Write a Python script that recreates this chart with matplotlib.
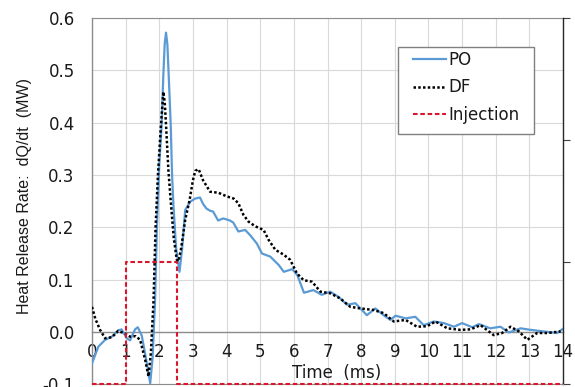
import matplotlib
matplotlib.use("Agg")
import matplotlib.pyplot as plt
from matplotlib.lines import Line2D
from matplotlib.patches import Rectangle

plt.rcParams['font.family'] = ['DejaVu Sans']

# ---- data ----
po_t = [0, 0.19, 0.39, 0.59, 0.78, 0.88, 1.03, 1.13, 1.28, 1.36, 1.48, 1.63, 1.73, 1.80,
        1.875, 1.93, 2.0, 2.07, 2.12, 2.16, 2.20, 2.24, 2.28, 2.34, 2.38, 2.42, 2.50, 2.60,
        2.68, 2.77, 2.92, 3.07, 3.21, 3.3, 3.4, 3.5, 3.6, 3.75, 3.9, 4.1, 4.2, 4.35, 4.55,
        4.7, 4.9, 5.05, 5.3, 5.55, 5.7, 5.95, 6.1, 6.3, 6.58, 6.83, 7.08, 7.33, 7.58, 7.83,
        8.17, 8.42, 8.67, 8.87, 9.02, 9.32, 9.61, 9.86, 10.16, 10.46, 10.76, 11.0, 11.3,
        11.5, 11.84, 12.14, 12.39, 12.74, 13.04, 13.43, 13.82, 14.0]
po_v = [-0.06, -0.028, -0.015, -0.009, 0.003, 0.005, -0.012, -0.016, 0.005, 0.009, -0.007,
        -0.06, -0.098, -0.05, 0.06, 0.2, 0.32, 0.396, 0.49, 0.55, 0.572, 0.55, 0.49, 0.396,
        0.30, 0.243, 0.16, 0.115, 0.16, 0.233, 0.249, 0.255, 0.257, 0.245, 0.236, 0.232,
        0.23, 0.213, 0.217, 0.213, 0.209, 0.192, 0.195, 0.185, 0.169, 0.15, 0.144, 0.128,
        0.115, 0.12, 0.109, 0.075, 0.080, 0.071, 0.077, 0.067, 0.052, 0.055, 0.032, 0.045,
        0.032, 0.023, 0.031, 0.026, 0.029, 0.013, 0.02, 0.017, 0.01, 0.017, 0.009, 0.015,
        0.007, 0.01, -0.001, 0.007, 0.004, 0.001, -0.002, 0.006]

df_t = [0, 0.1, 0.24, 0.39, 0.59, 0.78, 0.98, 1.13, 1.3, 1.43, 1.58, 1.68, 1.75, 1.83, 1.89,
        1.96, 2.05, 2.12, 2.16, 2.20, 2.27, 2.34, 2.43, 2.52, 2.57, 2.65, 2.77, 2.9, 3.0,
        3.07, 3.17, 3.3, 3.51, 3.76, 4.01, 4.21, 4.35, 4.50, 4.65, 4.85, 5.10, 5.25, 5.45,
        5.69, 5.89, 6.09, 6.29, 6.54, 6.79, 7.08, 7.38, 7.68, 7.98, 8.37, 8.67, 8.97, 9.32,
        9.66, 9.96, 10.21, 10.56, 10.95, 11.25, 11.55, 11.94, 12.19, 12.44, 12.69, 12.94,
        13.23, 13.53, 13.93]
df_v = [0.048, 0.025, 0.004, -0.012, -0.01, 0.002, -0.003, -0.009, -0.008, -0.015, -0.053,
        -0.085, -0.04, 0.061, 0.2, 0.3, 0.396, 0.459, 0.44, 0.396, 0.31, 0.25, 0.18, 0.138,
        0.135, 0.16, 0.214, 0.252, 0.29, 0.308, 0.311, 0.29, 0.268, 0.266, 0.259, 0.255,
        0.246, 0.224, 0.211, 0.202, 0.195, 0.176, 0.157, 0.148, 0.138, 0.112, 0.099, 0.096,
        0.077, 0.074, 0.064, 0.048, 0.045, 0.042, 0.036, 0.02, 0.023, 0.01, 0.011, 0.02,
        0.007, 0.004, 0.005, 0.013, -0.006, -0.002, 0.01, 0.001, -0.015, -0.002, -0.002,
        0.001]

inj_t = [0, 1.0, 1.0, 2.52, 2.52, 14]
inj_v = [0, 0, 1, 1, 0, 0]

x_ticks = list(range(0, 15))
y_ticks = [-0.1, 0.0, 0.1, 0.2, 0.3, 0.4, 0.5, 0.6]
y_ticklabels = ['-0.1', '0.0', '0.1', '0.2', '0.3', '0.4', '0.5', '0.6']

# ---- figure ----
W, H = 575, 387
AX_L, AX_R, AX_T, AX_B = 92, 563, 18, 384.3
fig = plt.figure(figsize=(5.75, 3.87), dpi=100)
ax = fig.add_axes([AX_L/W, 1 - AX_B/H, (AX_R - AX_L)/W, (AX_B - AX_T)/H])
ax.set_xlim(0, 14)
ax.set_ylim(-0.1, 0.6)

def ax_x(px):
    return (px - AX_L) / (AX_R - AX_L)

def ax_y(py):
    return (AX_B - py) / (AX_B - AX_T)

txt = '#1a1a1a'
fs = 12

ax.set_xticks(x_ticks)
ax.set_yticks(y_ticks)
ax.set_yticklabels(y_ticklabels)
ax.grid(True, color='#d9d9d9', lw=0.8)
ax.set_axisbelow(True)
ax.tick_params(axis='y', length=0, pad=12.5, labelsize=fs, labelcolor=txt)
ax.tick_params(axis='x', length=0, pad=8, labelsize=fs, labelcolor=txt)
ax.spines['bottom'].set_position(('data', 0))
ax.spines['bottom'].set_color('#8c8c8c')
ax.spines['bottom'].set_linewidth(1.0)
ax.spines['left'].set_color('#8c8c8c')
ax.spines['left'].set_linewidth(1.0)
ax.spines['top'].set_color('#8c8c8c')
ax.spines['top'].set_linewidth(0.8)
ax.spines['right'].set_visible(False)

dot_style = (0, (1.0, 0.9))
dash_style = (0, (2.2, 1.3))

ax.plot(po_t, po_v, color='#5b9bd5', lw=1.6, zorder=3)
ax.plot(df_t, df_v, color='black', lw=1.8, linestyle=dot_style, zorder=4)

ax2 = ax.twinx()
ax2.set_ylim(0, 3)
ax2.set_yticks([0, 1, 2, 3])
ax2.set_yticklabels([])
ax2.tick_params(axis='y', length=5, width=0.8, direction='out', color='#404040')
ax2.spines['right'].set_color('#262626')
ax2.spines['right'].set_linewidth(1.0)
ax2.spines['left'].set_visible(False)
ax2.spines['top'].set_visible(False)
ax2.spines['bottom'].set_color('#8c8c8c')
ax2.spines['bottom'].set_linewidth(0.8)
ax2.plot(inj_t, inj_v, color='#d9162b', lw=1.5, linestyle=dash_style, clip_on=False, zorder=5)

# legend frame
frame = Rectangle((ax_x(397.7), ax_y(134)), ax_x(534) - ax_x(397.7), ax_y(46.7) - ax_y(134),
                  transform=ax2.transAxes, facecolor='white', edgecolor='#808080', lw=1.0,
                  zorder=6)
ax2.add_patch(frame)

handles = [Line2D([], [], color='#5b9bd5', lw=1.6),
           Line2D([], [], color='black', lw=1.8, linestyle=dot_style),
           Line2D([], [], color='#d9162b', lw=1.5, linestyle=dash_style)]
leg = ax2.legend(handles, ['PO', 'DF', 'Injection'], loc='upper left',
                 bbox_to_anchor=(ax_x(412.7), ax_y(51.0)), fontsize=fs, frameon=False,
                 handlelength=2.0, handletextpad=0.16, labelspacing=0.56, borderpad=0,
                 borderaxespad=0)
leg.set_zorder(7)
for t in leg.get_texts():
    t.set_color(txt)

fig.text(337/W, 1 - 373/H, 'Time  (ms)', ha='center', va='center', fontsize=fs, color=txt)
fig.text(25/W, 1 - 196/H, 'Heat Release Rate:  dQ/dt  (MW)', ha='center', va='center',
         rotation=90, fontsize=11.5, color=txt, family=['Liberation Sans', 'DejaVu Sans'])

fig.savefig('out.png', dpi=100)
